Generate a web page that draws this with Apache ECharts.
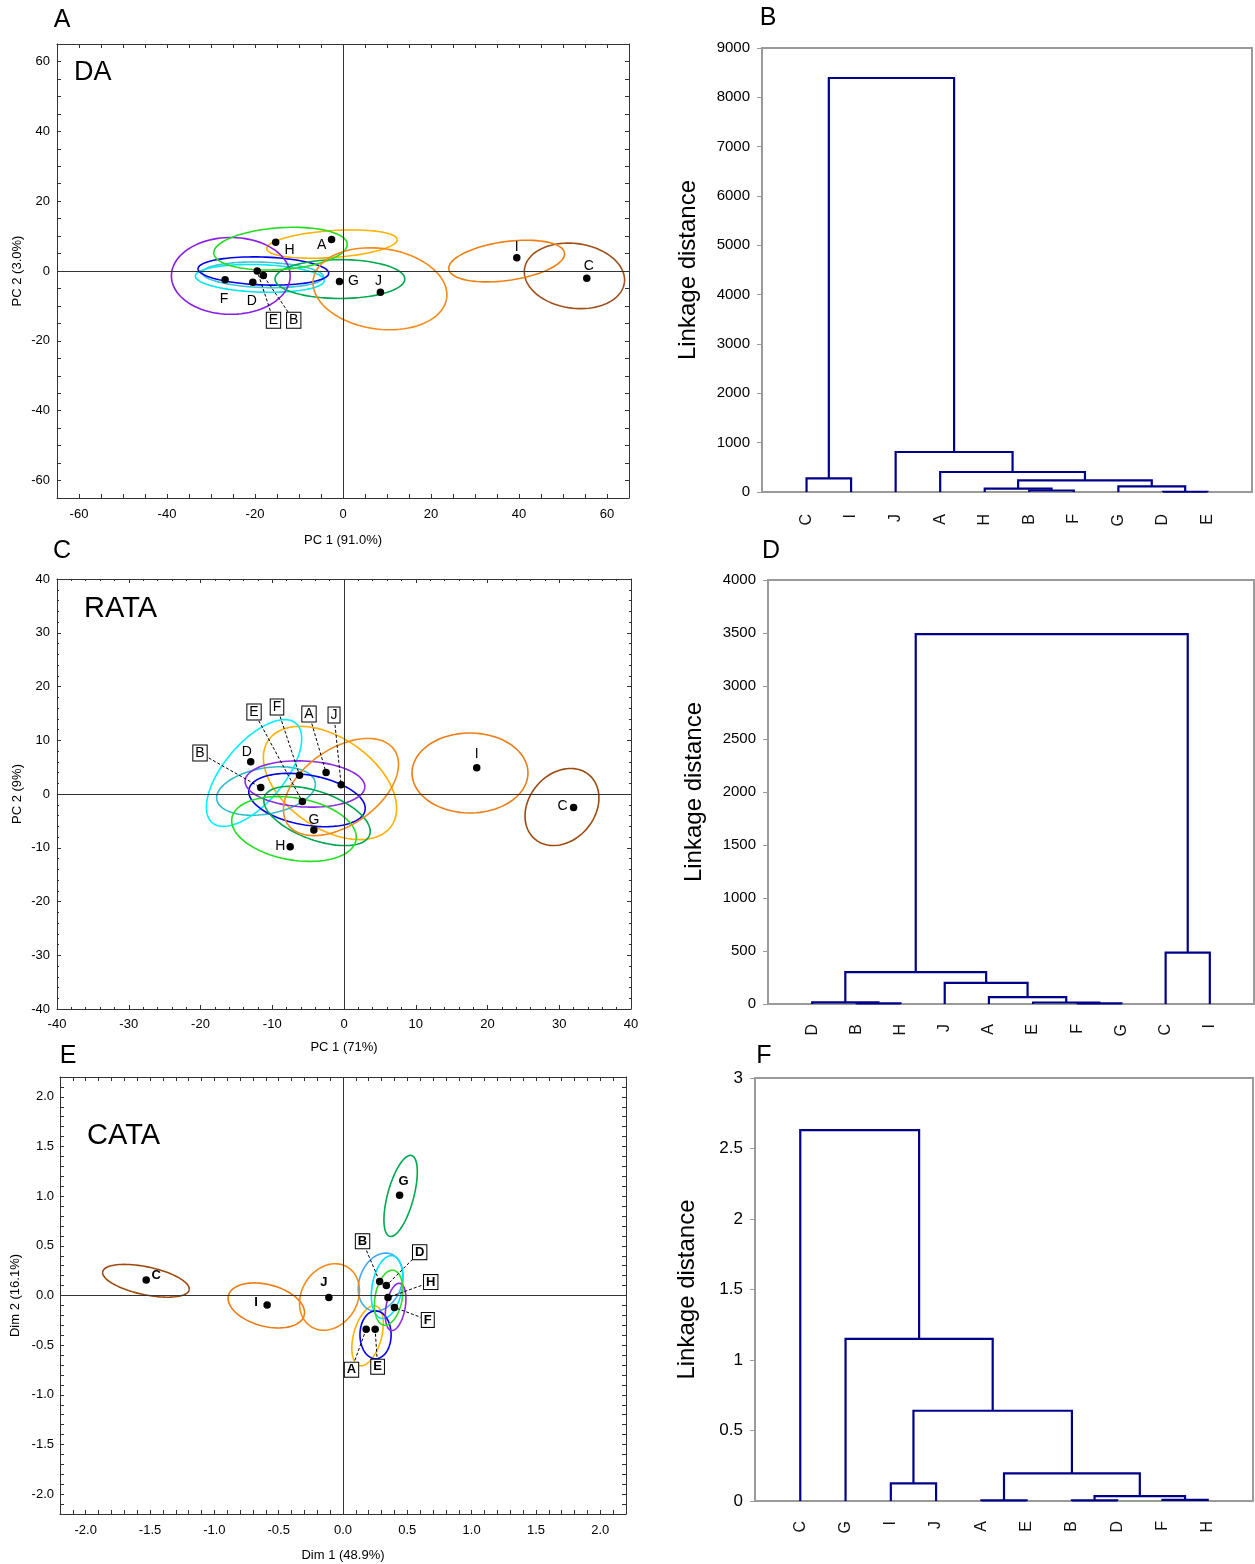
<!DOCTYPE html>
<html><head><meta charset="utf-8">
<script src="https://cdn.jsdelivr.net/npm/echarts@6/dist/echarts.min.js"></script>
<style>html,body{margin:0;padding:0;background:#fff}#c{width:1255px;height:1564px}</style>
</head><body><div id="c"></div>
<script>
// ---------------- DATA ----------------
const products = ['A','B','C','D','E','F','G','H','I','J'];

// Panel A — DA score plot
const daPC1 = [-2.6, -18.1, 55.4, -20.5, -19.5, -26.8, -0.8, -15.3, 39.5, 8.5];
const daPC2 = [9.0, -1.3, -2.1, -3.2, 0.0, -2.5, -3.0, 8.2, 3.8, -6.1];
// confidence ellipses: [centre x, centre y, semi-axis u (x,y), conjugate semi-axis v (x,y)] in data units
const daEllipses = [
  [-2.5, 7.7, 14.82, 1.30, -0.21, 3.84],
  [-18.2, -1.1, 13.76, -0.60, 0.10, 3.62],
  [52.6, -1.4, 11.35, -2.0, 1.03, 9.17],
  [-18.9, -2.1, 14.65, -0.64, 0.11, 3.93],
  [-18.1, 0.0, 14.85, -0.65, 0.11, 3.99],
  [-25.5, -1.4, 13.5, 0, 0, 11.0],
  [-0.7, -2.3, 14.75, 0, 0, 5.56],
  [-14.2, 6.4, 15.16, 1.33, -0.33, 5.97],
  [37.2, 2.85, 13.14, 2.32, -0.62, 5.50],
  [8.4, -5.1, 15.16, -2.68, 1.28, 11.43]
];
const daTickLabels = [-60, -40, -20, 0, 20, 40, 60];

// Panel B — DA dendrogram
const daLeaves = ['C','I','J','A','H','B','F','G','D','E'];
const daMerges = [['B','F',30], ['H',0,67], ['D','E',5], ['G',2,114], [1,3,235], ['A',4,405], ['J',5,811], ['C','I',276], [7,6,8392]];

// Panel C — RATA score plot
const rataPC1 = [-2.5, -11.6, 32.0, -13.0, -5.8, -6.2, -4.2, -7.5, 18.5, -0.4];
const rataPC2 = [4.0, 1.2, -2.5, 6.0, -1.4, 3.5, -6.7, -9.8, 4.9, 1.7];
const rataEllipses = [
  [-1.95, 2.05, 8.56, -8.00, 3.60, 6.86],
  [-10.87, 0.56, 6.86, 1.62, -0.56, 4.21],
  [30.38, -2.42, 3.76, 5.99, -3.52, 3.95],
  [-12.54, 3.91, 5.82, 9.26, -3.20, 3.59],
  [-5.16, -1.12, 8.10, -1.91, 0.60, 4.58],
  [-5.44, 1.86, 8.35, -0.58, 0.17, 4.27],
  [-3.76, -4.09, 7.33, -3.56, 1.14, 4.20],
  [-6.97, -6.51, 8.65, -2.04, 0.75, 5.68],
  [17.56, 3.91, 8.08, 0, 0, 7.44],
  [-0.42, 1.30, 7.42, 6.94, -3.04, 5.79]
];

// Panel D — RATA dendrogram
const rataLeaves = ['D','B','H','J','A','E','F','G','C','I'];
const rataMerges = [['B','H',6], ['D',0,16], ['F','G',6], ['E',2,14], ['A',3,64], ['J',4,200], [1,5,300], ['C','I',485], [6,7,3490]];

// Panel E — CATA score plot
const cataDim1 = [0.18, 0.285, -1.53, 0.337, 0.25, 0.40, 0.44, 0.35, -0.59, -0.11];
const cataDim2 = [-0.34, 0.14, 0.155, 0.10, -0.34, -0.12, 1.01, -0.02, -0.095, -0.02];
const cataEllipses = [
  [0.191, -0.406, 0.063, 0.300, -0.105, 0.036],
  [0.292, 0.135, 0.080, 0.283, -0.154, 0.072],
  [-1.532, 0.148, 0.336, -0.092, 0.023, 0.137],
  [0.343, 0.085, 0.043, 0.316, -0.115, 0.026],
  [0.253, -0.396, 0, 0.241, -0.121, 0],
  [0.409, -0.115, 0.033, 0.237, -0.073, 0.017],
  [0.448, 1.003, 0.085, 0.407, -0.098, 0.034],
  [0.355, -0.022, 0.038, 0.276, -0.104, 0.023],
  [-0.596, -0.100, 0.294, -0.101, 0.042, 0.203],
  [-0.105, -0.015, 0.136, 0.304, -0.189, 0.140]
];
const cataTickLabels = [-2.0, -1.5, -1.0, -0.5, 0.0, 0.5, 1.0, 1.5, 2.0];

// Panel F — CATA dendrogram
const cataLeaves = ['C','G','I','J','A','E','B','D','F','H'];
const cataMerges = [['I','J',0.125], ['A','E',0.005], ['B','D',0.005], ['F','H',0.008], [2,3,0.035], [1,4,0.196], [0,5,0.64], ['G',6,1.15], ['C',7,2.63]];

// ---------------- STYLE / LAYOUT ----------------
const FONT = 'Liberation Sans, Arial, sans-serif';
const colorsA = {A:'#ffb300',B:'#3cc8d8',C:'#a0501a',D:'#00e8f0',E:'#0000ee',F:'#8a1ee6',G:'#00a84f',H:'#22dd22',I:'#f07f10',J:'#f58a1a'};
const colorsC = {A:'#ffb000',B:'#30bcc8',C:'#9c4a10',D:'#00f0ff',E:'#0000ee',F:'#8a2be2',G:'#00a84f',H:'#22e022',I:'#ec7c14',J:'#f58a1a'};
const colorsE = {A:'#ffb300',B:'#46a8f0',C:'#9c4a10',D:'#00e0ff',E:'#0000ee',F:'#8a2be2',G:'#00a84f',H:'#33dd22',I:'#ec7c14',J:'#f58a1a'};

const labelOffA = {A:[-10,6], C:[2,-12], D:[-1,19], F:[-1,19], G:[14,0], H:[14,8], I:[0,-11], J:[-2,-11]};
const boxesA = {E:[-15.8,-14.1], B:[-11.2,-14.1]};
const labelOffC = {C:[-11,-1], D:[-4,-10], G:[0,-10], H:[-10,-1], I:[0,-14]};
const boxesC = {E:[-12.54,15.26], F:[-9.34,16.19], A:[-4.88,14.88], J:[-1.39,14.70], B:[-20.07,7.63]};
const labelOffE = {C:[10,-5], G:[4,-14], I:[-11,-3], J:[-5,-15]};
const boxesE = {B:[0.152,0.546], D:[0.596,0.436], H:[0.682,0.135], F:[0.659,-0.246], A:[0.066,-0.747], E:[0.269,-0.717]};

const grids = [
  {left:57, top:44, width:572, height:454},
  {left:762, top:48, width:490, height:444},
  {left:57, top:579, width:574, height:430},
  {left:768, top:580, width:486, height:424},
  {left:60, top:1077, width:566, height:437},
  {left:755, top:1078, width:498, height:423}
];

// ---------------- BUILDERS ----------------
const xAxes = [], yAxes = [], series = [];

function scatterAxes(gi, o, dim) {
  const base = {
    type:'value', gridIndex:gi, min:o.min, max:o.max, interval:o.interval,
    axisLine:{show:true, onZero:false, lineStyle:{color:'#333', width:1}},
    axisTick:{show:true, inside:true, length:4, lineStyle:{color:'#333'}},
    minorTick:{show:!!o.minor, splitNumber:o.minor || 5, length:2, lineStyle:{color:'#333'}},
    splitLine:{show:false}, minorSplitLine:{show:false}
  };
  const main = Object.assign({}, base, {
    position: dim === 'x' ? 'bottom' : 'left',
    axisLabel:{show:true, margin:o.margin, fontSize:13, color:'#000', fontFamily:FONT, formatter:o.fmt},
    name:o.name, nameLocation:'middle', nameGap:o.nameGap,
    nameTextStyle:{fontSize:13, color:'#000', fontFamily:FONT}
  });
  if (o.labels) main.axisLabel.customValues = o.labels;
  const mirror = Object.assign({}, base, {position: dim === 'x' ? 'top' : 'right', axisLabel:{show:false}});
  const arr = dim === 'x' ? xAxes : yAxes;
  const idx = arr.length;
  arr.push(main, mirror);
  return idx;
}

function dendroAxes(gi, leaves, ymax, yint, yFont, nameGap, leafMargin) {
  const xi = xAxes.length, yi = yAxes.length;
  const gray = '#9a9a9a';
  xAxes.push({
    type:'value', gridIndex:gi, min:0, max:11, interval:1, position:'bottom',
    axisLine:{show:true, onZero:false, lineStyle:{color:gray, width:2}},
    axisTick:{show:false}, splitLine:{show:false},
    axisLabel:{show:true, rotate:90, margin:leafMargin, fontSize:16, color:'#111', fontFamily:FONT,
      formatter: v => (v >= 1 && v <= leaves.length) ? leaves[Math.round(v) - 1] : ''}
  }, {
    type:'value', gridIndex:gi, min:0, max:11, position:'top',
    axisLine:{show:true, onZero:false, lineStyle:{color:gray, width:2}},
    axisTick:{show:false}, axisLabel:{show:false}, splitLine:{show:false}
  });
  yAxes.push({
    type:'value', gridIndex:gi, min:0, max:ymax, interval:yint, position:'left',
    axisLine:{show:true, onZero:false, lineStyle:{color:gray, width:2}},
    axisTick:{show:true, inside:false, length:5, lineStyle:{color:gray, width:1}},
    splitLine:{show:false},
    axisLabel:{show:true, margin:12, fontSize:yFont, color:'#000', fontFamily:FONT, formatter: v => String(v)},
    name:'Linkage distance', nameLocation:'middle', nameGap:nameGap, nameRotate:90,
    nameTextStyle:{fontSize:24, color:'#000', fontFamily:FONT}
  }, {
    type:'value', gridIndex:gi, min:0, max:ymax, position:'right',
    axisLine:{show:true, onZero:false, lineStyle:{color:gray, width:2}},
    axisTick:{show:false}, axisLabel:{show:false}, splitLine:{show:false}
  });
  return [xi, yi];
}

function dendroLayout(leaves, merges) {
  const pos = {}; leaves.forEach((l, i) => pos[l] = i + 1);
  const nx = [], nh = [];
  const get = r => typeof r === 'number' ? [nx[r], nh[r]] : [pos[r], 0];
  return merges.map((m, i) => {
    const [lx, lh] = get(m[0]); const [rx, rh] = get(m[1]);
    nx[i] = (lx + rx) / 2; nh[i] = m[2];
    return [lx, lh, rx, rh, m[2]];
  });
}

function addDendro(gi, leaves, merges, ymax, yint, yFont, nameGap, leafMargin) {
  const [xi, yi] = dendroAxes(gi, leaves, ymax, yint, yFont, nameGap, leafMargin);
  series.push({
    type:'custom', xAxisIndex:xi, yAxisIndex:yi, silent:true,
    data: dendroLayout(leaves, merges),
    encode:{x:[0,2], y:[1,3,4]},
    renderItem: (p, api) => {
      const lx = api.value(0), lh = api.value(1), rx = api.value(2), rh = api.value(3), h = api.value(4);
      return {type:'polyline', shape:{points:[api.coord([lx,lh]), api.coord([lx,h]), api.coord([rx,h]), api.coord([rx,rh])]},
        style:{stroke:'#00008b', lineWidth:2.2, fill:null}};
    }
  });
}

function addScatterPanel(xi, yi, xs, ys, ells, colors, offs, boxes, fontSize, fontWeight) {
  // ellipses
  series.push({
    type:'custom', xAxisIndex:xi, yAxisIndex:yi, silent:true, z:2,
    data: ells.map(e => e.slice()),
    renderItem: (p, api) => {
      const e = ells[p.dataIndex];
      const pts = [];
      for (let k = 0; k <= 90; k++) {
        const t = k / 90 * Math.PI * 2;
        pts.push(api.coord([e[0] + e[2]*Math.cos(t) + e[4]*Math.sin(t), e[1] + e[3]*Math.cos(t) + e[5]*Math.sin(t)]));
      }
      return {type:'polyline', shape:{points:pts}, style:{stroke:colors[products[p.dataIndex]], lineWidth:1.6, fill:null}};
    }
  });
  // points
  series.push({
    type:'scatter', xAxisIndex:xi, yAxisIndex:yi, z:5, symbol:'circle', symbolSize:7.5,
    itemStyle:{color:'#000', opacity:1},
    label:{show:true, position:'inside', formatter: p => p.name, fontSize:fontSize, fontWeight:fontWeight, color:'#000', fontFamily:FONT},
    data: products.map((n, i) => ({name:n, value:[xs[i], ys[i]], label:{show: !boxes[n], offset: offs[n] || [0,0]}})),
    markLine:{silent:true, symbol:'none', label:{show:false}, animation:false,
      lineStyle:{color:'#333', width:1, type:'solid'}, data:[{xAxis:0}, {yAxis:0}]}
  });
  // boxed labels with dashed leaders
  const boxNames = Object.keys(boxes);
  series.push({
    type:'custom', xAxisIndex:xi, yAxisIndex:yi, silent:true, z:6,
    data: boxNames.map(n => { const i = products.indexOf(n); return [boxes[n][0], boxes[n][1], xs[i], ys[i]]; }),
    renderItem: (p, api) => {
      const b = api.coord([api.value(0), api.value(1)]);
      const q = api.coord([api.value(2), api.value(3)]);
      return {type:'group', children:[
        {type:'line', shape:{x1:b[0], y1:b[1], x2:q[0], y2:q[1]}, style:{stroke:'#000', lineWidth:1, lineDash:[3,2]}},
        {type:'text', x:b[0], y:b[1], style:{text:boxNames[p.dataIndex], fill:'#000', fontSize:fontSize, fontWeight:fontWeight,
          fontFamily:FONT, align:'center', verticalAlign:'middle', backgroundColor:'#fff', borderColor:'#000', borderWidth:1, padding:[1,2,0,2]}}
      ]};
    }
  });
}

// Panel A
{
  const xi = scatterAxes(0, {min:-65, max:65, interval:5, labels:daTickLabels, margin:10, name:'PC 1 (91.0%)', nameGap:36}, 'x');
  const yi = scatterAxes(0, {min:-65, max:65, interval:5, labels:daTickLabels, margin:7, name:'PC 2 (3.0%)', nameGap:33}, 'y');
  addScatterPanel(xi, yi, daPC1, daPC2, daEllipses, colorsA, labelOffA, boxesA, 14, 'normal');
}
// Panel B
addDendro(1, daLeaves, daMerges, 9000, 1000, 15, 62, 22);
// Panel C
{
  const xi = scatterAxes(2, {min:-40, max:40, interval:10, minor:5, margin:9, name:'PC 1 (71%)', nameGap:32}, 'x');
  const yi = scatterAxes(2, {min:-40, max:40, interval:10, minor:5, margin:7, name:'PC 2 (9%)', nameGap:33}, 'y');
  addScatterPanel(xi, yi, rataPC1, rataPC2, rataEllipses, colorsC, labelOffC, boxesC, 14, 'normal');
}
// Panel D
addDendro(3, rataLeaves, rataMerges, 4000, 500, 15, 62, 20);
// Panel E
{
  const fmt = v => v.toFixed(1);
  const xi = scatterAxes(4, {min:-2.2, max:2.2, interval:0.1, labels:cataTickLabels, fmt, margin:10, name:'Dim 1 (48.9%)', nameGap:35}, 'x');
  const yi = scatterAxes(4, {min:-2.2, max:2.2, interval:0.1, labels:cataTickLabels, fmt, margin:6, name:'Dim 2 (16.1%)', nameGap:38}, 'y');
  addScatterPanel(xi, yi, cataDim1, cataDim2, cataEllipses, colorsE, labelOffE, boxesE, 13, 'bold');
}
// Panel F
addDendro(5, cataLeaves, cataMerges, 3, 0.5, 17, 56, 20);

// ---------------- TEXT ----------------
const txt = (x, y, t, size, align) => ({type:'text', x, y, style:{text:t, fontSize:size, fontFamily:FONT, fill:'#000', align:align || 'center', verticalAlign:'middle'}});
const graphics = [
  txt(62, 20, 'A', 25), txt(768, 18, 'B', 25), txt(62, 551, 'C', 25),
  txt(771, 551, 'D', 25), txt(68, 1056, 'E', 25), txt(764, 1056, 'F', 25),
  txt(74, 73, 'DA', 27, 'left'), txt(84, 609, 'RATA', 29, 'left'), txt(87, 1136, 'CATA', 29, 'left')
];

const chart = echarts.init(document.getElementById('c'), null, {renderer:'canvas'});
chart.setOption({
  animation:false,
  backgroundColor:'#fff',
  grid: grids,
  xAxis: xAxes,
  yAxis: yAxes,
  series: series,
  graphic: graphics
});
</script>
</body></html>
